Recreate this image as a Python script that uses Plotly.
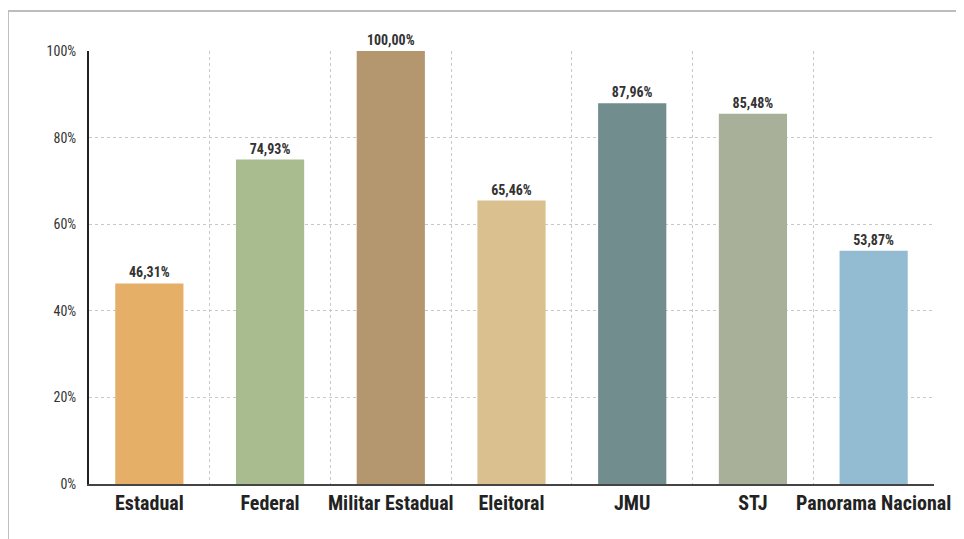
import plotly.graph_objects as go

categories = ["Estadual", "Federal", "Militar Estadual", "Eleitoral", "JMU", "STJ", "Panorama Nacional"]
values = [46.31, 74.93, 100.00, 65.46, 87.96, 85.48, 53.87]
colors = ["#E5AF67", "#A9BC90", "#B5976F", "#D9C08E", "#728D8E", "#A8B09A", "#93BCD3"]
y_ticks = [0, 20, 40, 60, 80, 100]
y_tick_labels = ["0%", "20%", "40%", "60%", "80%", "100%"]

FONT = "Liberation Sans Narrow, Roboto Condensed, Arial Narrow, Liberation Sans, sans-serif"

fig = go.Figure(go.Bar(
    x=categories, y=values,
    marker=dict(color=colors, line=dict(width=0)),
    width=0.565,
    texttemplate="<b>%{y:.2f}%</b>", textposition="outside",
    textfont=dict(family=FONT, size=14, color="#333333"),
    cliponaxis=False,
    hoverinfo="x+y",
))

fig.update_layout(
    width=964, height=539,
    margin=dict(l=81, r=38, t=43, b=63, autoexpand=False),
    paper_bgcolor="white", plot_bgcolor="white",
    separators=",.",
    showlegend=False,
    font=dict(family=FONT, color="#333333"),
    xaxis=dict(
        type="category", tickson="boundaries",
        tickvals=categories, ticktext=["<b>" + c + "</b>" for c in categories],
        tickangle=0, automargin=False,
        showgrid=True, gridcolor="#c8c8c8", griddash="dot", gridwidth=1,
        showline=True, linecolor="#444444", linewidth=2,
        ticks="", tickfont=dict(family=FONT, size=20, color="#222222"),
        range=[-0.5, 6.5],
    ),
    yaxis=dict(
        range=[0, 100], tickvals=y_ticks, ticktext=y_tick_labels,
        automargin=False, ticklabelstandoff=8,
        showgrid=True, gridcolor="#c8c8c8", griddash="dot", gridwidth=1,
        showline=True, linecolor="#222222", linewidth=2,
        zeroline=False, ticks="", ticklen=0,
        tickfont=dict(family=FONT, size=14, color="#333333"),
    ),
    shapes=[dict(type="rect", xref="paper", yref="paper",
                 x0=-0.0959, x1=1.2, y0=-0.5, y1=1.0924,
                 line=dict(color="#bdbdbd", width=2), fillcolor="rgba(0,0,0,0)",
                 layer="below")],
)

fig.write_html("out.html")
